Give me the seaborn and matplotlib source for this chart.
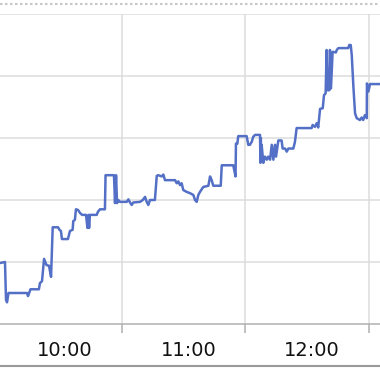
import matplotlib
matplotlib.use("Agg")
import matplotlib.pyplot as plt
import matplotlib.transforms as mtransforms
from matplotlib.lines import Line2D
import seaborn as sns
import pandas as pd

# minutes after 09:00
minutes = [30.2, 33.1, 33.6, 34.1, 34.8, 43.8, 44.3, 45.5, 49.6, 50.1, 51.1, 52.1, 53.3, 54.5, 55.5,
           56.3, 58.9, 59.6, 60.3, 60.8, 63.7, 64.7, 66.0, 66.3, 67.1, 67.6, 68.6, 69.6, 70.6, 72.5,
           73.2, 73.7, 74.0, 74.4, 77.7, 78.3, 79.3, 81.7, 82.0, 86.1, 86.6, 87.1, 87.6, 88.2, 89.0,
           92.3, 93.1, 93.9, 94.7, 95.5, 98.8, 100.1, 101.2, 102.0, 102.8, 103.6, 106.0, 106.9, 107.6,
           109.3, 110.1, 110.9, 115.8, 116.6, 117.4, 118.2, 119.0, 119.8, 121.5, 123.1, 124.7, 125.5,
           126.3, 127.1, 127.9, 129.5, 132.0, 132.8, 133.6, 134.4, 138.0, 138.5, 144.1, 145.2, 145.4,
           146.1, 146.5, 150.6, 151.4, 152.2, 153.1, 153.8, 154.7, 157.1, 157.3, 157.5, 157.7, 157.9,
           158.7, 159.5, 160.4, 161.1, 162.0, 162.8, 163.6, 164.4, 164.9, 166.0, 167.6, 168.1, 169.3,
           170.1, 170.9, 173.3, 174.1, 174.9, 182.2, 182.7, 183.8, 184.7, 185.4, 186.3, 187.6, 188.2,
           189.0, 189.5, 190.0, 190.8, 191.1, 191.6, 192.4, 194.0, 194.4, 195.2, 200.0, 200.5, 201.2,
           201.7, 202.5, 203.3, 204.1, 205.7, 206.5, 207.3, 208.1, 209.0, 209.1, 209.8, 210.6, 216.0]
values = [9.8, 10.0, 3.9, 3.5, 5.0, 5.0, 4.5, 5.6, 5.6, 6.6, 6.9, 10.5, 9.5, 9.4, 7.6,
          15.6, 15.6, 15.2, 15.0, 13.7, 13.7, 15.0, 15.2, 16.6, 16.8, 18.5, 18.4, 17.9, 17.6, 17.6,
          15.5, 17.6, 15.5, 17.6, 17.6, 18.1, 18.5, 18.5, 24.0, 24.0, 19.5, 24.0, 19.5, 20.0, 19.7,
          19.7, 20.1, 19.6, 19.2, 19.6, 19.7, 20.0, 20.5, 19.7, 19.2, 20.0, 20.0, 23.9, 24.0,
          23.8, 24.1, 23.2, 23.2, 22.7, 23.0, 22.4, 22.7, 21.6, 21.3, 21.1, 20.8, 20.0,
          19.7, 20.8, 21.3, 22.1, 22.3, 23.8, 23.2, 22.3, 22.3, 25.6, 25.6, 23.8, 29.1,
          29.1, 30.3, 30.3, 28.9, 28.9, 29.4, 30.2, 30.5, 30.5, 26.0, 30.0, 26.2, 28.9,
          26.0, 27.0, 26.5, 27.0, 26.5, 28.9, 26.5, 28.9, 27.0, 29.6, 29.6, 28.3, 28.3,
          27.8, 28.3, 28.3, 29.4, 31.6, 31.6, 32.1, 31.8, 32.4, 31.7, 34.7, 34.8, 36.9,
          37.2, 44.2, 37.7, 37.7, 44.2, 38.0, 43.9, 43.8, 44.2, 44.5, 44.5, 45.0, 45.0,
          43.4, 38.3, 34.0, 33.2, 32.9, 33.3, 32.9, 33.7, 33.2, 38.8, 37.5, 38.7, 38.7]

label_minutes = [60, 120, 180]
tick_labels = ["10:00", "11:00", "12:00"]
grid_minutes = [90, 150, 210]
y_grid = [10, 20, 30, 40, 50]

df = pd.DataFrame({"t": minutes, "v": values})

sns.set_theme(style="white")
plt.rcParams["font.family"] = ["DejaVu Sans"]

fig = plt.figure(figsize=(3.8, 3.72), dpi=100)
ax = fig.add_axes([0, 48 / 372, 1, 310 / 372])

sns.lineplot(data=df, x="t", y="v", ax=ax, color="#5470c6", linewidth=1.8,
             estimator=None, sort=False)

ax.set_xlim(30.68, 215.44)
ax.set_ylim(0, 50)
ax.set_xlabel("")
ax.set_ylabel("")

ax.set_xticks(grid_minutes)
ax.set_xticklabels([])
ax.set_xticks(label_minutes, minor=True)
ax.set_xticklabels(tick_labels, minor=True)
ax.set_yticks(y_grid)
ax.set_yticklabels([])

ax.tick_params(axis="x", which="major", direction="out", length=6.5, width=1.1,
               color="#b0b0b0", bottom=True)
ax.tick_params(axis="x", which="minor", length=0, pad=12, labelsize=14,
               labelcolor="#111111")
ax.tick_params(axis="y", length=0)

offset = mtransforms.ScaledTranslation(4.7 / 100, 0, fig.dpi_scale_trans)
for lab in ax.get_xticklabels(minor=True):
    lab.set_transform(lab.get_transform() + offset)

ax.grid(True, which="major", axis="both", color="#dcdcdc", linewidth=1.1)
ax.set_axisbelow(True)

for side in ["top", "left", "right"]:
    ax.spines[side].set_visible(False)
ax.spines["bottom"].set_color("#b0b0b0")
ax.spines["bottom"].set_linewidth(1.1)

fig.add_artist(Line2D([0, 1], [1 - 3.5 / 372, 1 - 3.5 / 372], transform=fig.transFigure,
                      color="#c8c8c8", linewidth=1.5, linestyle=(0, (1.2, 1.2))))
fig.add_artist(Line2D([0, 1], [1 - 366 / 372, 1 - 366 / 372], transform=fig.transFigure,
                      color="#9a9a9a", linewidth=1.5))

fig.savefig("out.png", dpi=100)
